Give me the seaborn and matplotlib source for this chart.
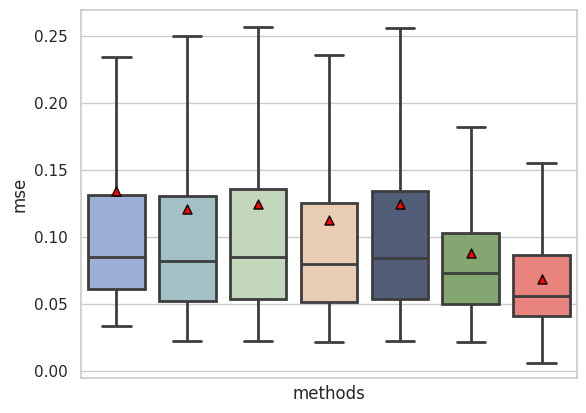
import matplotlib
matplotlib.use("Agg")
import matplotlib.pyplot as plt
import pandas as pd
import seaborn as sns

# box stats (whisker low, q1, median, q3, whisker high)
methods = ["m1", "m2", "m3", "m4", "m5", "m6", "m7"]
whis_low = [0.0336, 0.0221, 0.0221, 0.0216, 0.0221, 0.0216, 0.0060]
q1 = [0.0610, 0.0522, 0.0535, 0.0512, 0.0537, 0.0498, 0.0410]
median = [0.0848, 0.0821, 0.0848, 0.0796, 0.0843, 0.0729, 0.0557]
q3 = [0.1313, 0.1308, 0.1356, 0.1254, 0.1346, 0.1027, 0.0863]
whis_high = [0.2340, 0.2500, 0.2565, 0.2358, 0.2557, 0.1818, 0.1550]
means = [0.1346, 0.1207, 0.1244, 0.1127, 0.1244, 0.0878, 0.0684]
colors = ["#9DAFD6", "#A3C0C4", "#C3D7BA", "#E8CDB4", "#525E78", "#84A771", "#E8837D"]

rows = []
for i, m in enumerate(methods):
    for v in [whis_low[i], q1[i], median[i], q3[i], whis_high[i]]:
        rows.append({"x": "", "method": m, "mse": v})
df = pd.DataFrame(rows)
mean_df = pd.DataFrame({"x": [""] * len(methods), "method": methods, "mse": means})

sns.set_theme(style="whitegrid")
fig = plt.figure(figsize=(5.86, 4.13), dpi=100)
ax = fig.add_axes([81 / 586, 1 - 378 / 413, 496 / 586, 368 / 413])

sns.boxplot(data=df, x="x", y="mse", hue="method", palette=colors, saturation=1,
            whis=(0, 100), gap=0.2, linewidth=2, linecolor="#3d3d3d",
            legend=False, ax=ax)
sns.stripplot(data=mean_df, x="x", y="mse", hue="method", dodge=True, jitter=False,
              palette=["red"] * len(methods), marker="^", size=6.5, linewidth=1,
              edgecolor="black", legend=False, zorder=3, ax=ax)

ax.set_xlim(-0.4, 0.4)
ax.set_ylim(-0.0052, 0.2694)
ax.set_xticks([])
ax.set_xlabel("methods", labelpad=5)
ax.set_ylabel("mse")

fig.savefig("out.png", dpi=100)
